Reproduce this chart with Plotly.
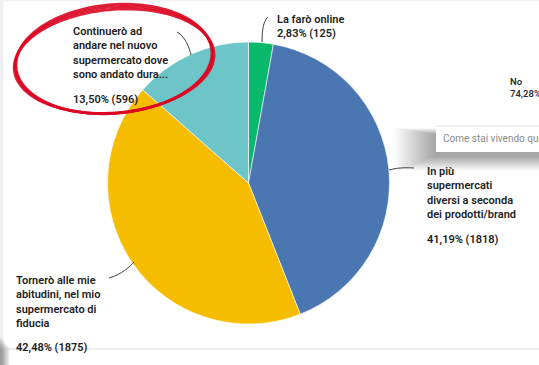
import numpy as np
import plotly.graph_objects as go

W, H = 539, 365

# Survey answers (slices go clockwise from 12 o'clock)
labels = [
    "La farò online",
    "In più<br>supermercati<br>diversi a seconda<br>dei prodotti/brand",
    "Tornerò alle mie<br>abitudini, nel mio<br>supermercato di<br>fiducia",
    "Continuerò ad<br>andare nel nuovo<br>supermercato dove<br>sono andato dura...",
]
percentages = [2.83, 41.19, 42.48, 13.50]
counts = [125, 1818, 1875, 596]
colors = ["#08b86b", "#4a76b1", "#f6bd00", "#6ec5c8"]


def px(x):
    return x / W


def py(y):
    return 1 - y / H


def fmt_pct(p, n):
    return f"{p:.2f}".replace(".", ",") + f"% ({n})"


# Pie geometry in pixels
cx, cy, r = 248.5, 183, 141

fig = go.Figure()
fig.add_trace(go.Pie(
    labels=[l.replace("<br>", " ") for l in labels],
    values=percentages,
    sort=False,
    direction="clockwise",
    rotation=0,
    marker=dict(colors=colors, line=dict(color="#ffffff", width=0.6)),
    textinfo="none",
    hoverinfo="label+percent",
    showlegend=False,
    domain=dict(x=[px(cx - r), px(cx + r)], y=[py(cy + r), py(cy - r)]),
))

shapes = []

# page edges
shapes.append(dict(type="rect", xref="paper", yref="paper", x0=0, x1=px(3.5), y0=0, y1=1,
                   fillcolor="#efefef", line=dict(width=0), layer="below"))
shapes.append(dict(type="rect", xref="paper", yref="paper", x0=0, x1=1, y0=py(1.5), y1=1,
                   fillcolor="#f2f2f2", line=dict(width=0), layer="below"))
shapes.append(dict(type="line", xref="paper", yref="paper", x0=px(8), x1=1, y0=py(349), y1=py(349),
                   line=dict(color="#dcdcdc", width=1.2)))
for i in range(6):
    shapes.append(dict(type="rect", xref="paper", yref="paper",
                       x0=0, x1=px(2 + i * 1.5), y0=0, y1=py(338 + i * 2),
                       fillcolor="rgba(90,90,90,0.12)", line=dict(width=0)))

# floating card on the right, with a soft shadow
card = (436, 118, 560, 152)
for k in range(1, 31):
    gx, gb, gt = 1.4 * k, 0.5 * k, 0.2 * k
    shapes.append(dict(type="rect", xref="paper", yref="paper",
                       x0=px(card[0] - gx), x1=px(card[2] + gx),
                       y0=py(card[3] + 4 + gb), y1=py(card[1] + 16 - gt),
                       fillcolor="rgba(0,0,0,0.011)", line=dict(width=0)))
shapes.append(dict(type="rect", xref="paper", yref="paper",
                   x0=px(card[0]), x1=px(card[2]), y0=py(card[3]), y1=py(card[1]),
                   fillcolor="#ffffff", line=dict(width=0)))
shapes.append(dict(type="line", xref="paper", yref="paper", x0=px(card[0]), x1=1,
                   y0=py(126), y1=py(126), line=dict(color="#e2e2e2", width=1)))


def path(points):
    return "M " + " L ".join(f"{px(x):.5f},{py(y):.5f}" for x, y in points)


def quad(p0, c, p1, n=20):
    t = np.linspace(0, 1, n)[:, None]
    a, b, d = np.array(p0), np.array(c), np.array(p1)
    return ((1 - t) ** 2 * a + 2 * (1 - t) * t * b + t ** 2 * d).tolist()


# leader lines
leaders = [
    ((262, 42), (262, 22), (268, 17)),
    ((389, 170), (400, 167), (414, 168)),
    ((109, 278), (123, 274), (134, 262)),
    ((191, 55), (187, 38), (177, 32)),
]
for p0, c, p1 in leaders:
    shapes.append(dict(type="path", xref="paper", yref="paper", path=path(quad(p0, c, p1)),
                       line=dict(color="#3a3a3a", width=1)))

# hand-drawn red marker ellipse
ex, ey, ea, eb, rot = 114, 60, 99, 53, np.deg2rad(-5)
strokes = [(0.0, 1.00, 1.00, 0), (0.35, 1.012, 0.975, 1.2), (0.8, 0.992, 1.025, -1.0)]
for start, ka, kb, dy in strokes:
    t = np.linspace(start, start + 2 * np.pi + 0.25, 160)
    xs = ea * ka * np.cos(t)
    ys = eb * kb * np.sin(t) + dy
    X = ex + xs * np.cos(rot) - ys * np.sin(rot)
    Y = ey + xs * np.sin(rot) + ys * np.cos(rot)
    shapes.append(dict(type="path", xref="paper", yref="paper", path=path(zip(X, Y)),
                       line=dict(color="rgba(220,8,36,0.9)", width=2.8)))

annotations = []
label_font = dict(family="Roboto", size=11, color="#222222", weight=600)
# (x, top of first line, y of the value line)
label_pos = [(275, 11, 25), (425, 163, 231), (14, 272, 339), (71, 23, 91)]
for i, (lab, p, n, (x, y, yv)) in enumerate(zip(labels, percentages, counts, label_pos)):
    text = lab + "<br>" + fmt_pct(p, n) if i == 0 else lab
    annotations.append(dict(
        xref="paper", yref="paper", x=px(x), y=py(y), xanchor="left", yanchor="top",
        align="left", showarrow=False, text=text, font=label_font,
    ))
    if i > 0:
        annotations.append(dict(
            xref="paper", yref="paper", x=px(x), y=py(yv), xanchor="left", yanchor="top",
            align="left", showarrow=False, text=fmt_pct(p, n), font=label_font,
        ))

# text on the overlapping panel
annotations.append(dict(xref="paper", yref="paper", x=px(508), y=py(74), xanchor="left",
                        yanchor="top", align="left", showarrow=False, text="No<br>74,28%",
                        font=dict(family="Roboto", size=9.5, color="#2e2e2e", weight=600)))
annotations.append(dict(xref="paper", yref="paper", x=px(441), y=py(138), xanchor="left",
                        yanchor="middle", align="left", showarrow=False,
                        text="Come stai vivendo questi giorni?",
                        font=dict(family="Roboto", size=10, color="#8a8a8a")))

fig.update_layout(
    width=W, height=H,
    margin=dict(l=0, r=0, t=0, b=0),
    paper_bgcolor="#ffffff", plot_bgcolor="#ffffff",
    shapes=shapes, annotations=annotations,
)

fig.write_html("out.html")
